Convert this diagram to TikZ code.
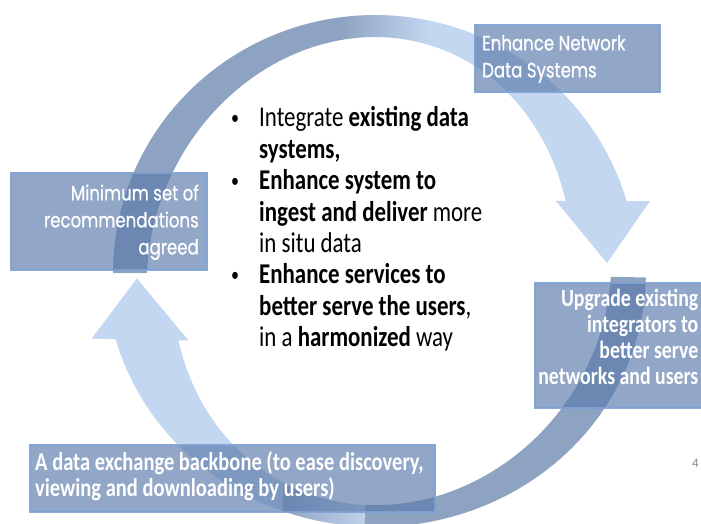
\documentclass[tikz,border=0pt]{standalone}
\usepackage{fontspec}
\setmainfont{Carlito}
\newfontfamily\gothic[FakeBold=0.6]{Poppins}
\definecolor{arrdark}{HTML}{8EA3C1}
\definecolor{arrlight}{HTML}{C3D7F0}
\definecolor{boxfill}{HTML}{5979AA}
\definecolor{boxedge}{HTML}{7EA1D3}
\newcommand\arrowshape{plot[domain=180:343.8,samples=90,variable=\t] ({375+262*cos(\t)},{273+258*sin(\t)}) -- (650,201) -- (607,263) -- (556,201) -- plot[domain=342.2:180,samples=90,variable=\t] ({375+(228-28*(\t-180)/163.6)*cos(\t)},{273+236*sin(\t)}) -- cycle}
\newcommand\tallbox[1]{\scalebox{1}[1.25]{#1}}
\newcommand\bul{\makebox[29pt][l]{\hspace{1pt}\raisebox{1.6pt}{\fontsize{16}{16}\selectfont\textbullet}}}
\tikzset{
  box/.style={rectangle, fill=boxfill, fill opacity=0.65, draw=boxedge, draw opacity=0.9, line width=1.1pt, inner sep=0pt},
  boxtxt/.style={inner sep=0pt, text=white},
  gothicfont/.style={font=\gothic\fontsize{16.6}{21.6}\selectfont}
}
\begin{document}
\begin{tikzpicture}[x=1pt,y=-1pt]
\useasboundingbox (0,0) rectangle (701,524);
\fill[white] (0,0) rectangle (701,524);
% top arrow
\begin{scope}
\clip \arrowshape;
\fill[arrdark] (0,0) rectangle (340,524);
\shade[left color=arrdark,right color=arrlight] (340,0) rectangle (430,524);
\fill[arrlight] (430,0) rectangle (701,524);
\end{scope}
% bottom arrow
\begin{scope}[shift={(375.5,272)}, rotate=179, xscale=1.03, yscale=0.985, shift={(-375.5,-273.75)}]
\clip \arrowshape;
\fill[arrdark] (0,-100) rectangle (382,700);
\shade[left color=arrdark,right color=arrlight] (382,-100) rectangle (462,700);
\fill[arrlight] (462,-100) rectangle (800,700);
\end{scope}
% boxes
\node[box, minimum width=196, minimum height=97] (rec) at (109,221.5) {};
\node[box, minimum width=185, minimum height=67] (enh) at (567.5,58.5) {};
\node[box, minimum width=170, minimum height=125] (upg) at (620,345.5) {};
\node[box, minimum width=405, minimum height=67] (bb) at (232.5,478.5) {};
% box texts
\node[boxtxt, gothicfont, anchor=east] (rect) at (199,222) {\tallbox{\begin{tabular}{@{}r@{}}Minimum set of\\recommendations\\agreed\end{tabular}}};
\node[boxtxt, gothicfont, anchor=west] (enht) at (482,58.5) {\tallbox{\begin{tabular}{@{}l@{}}Enhance Network\\Data Systems\end{tabular}}};
\node[boxtxt, font=\bfseries\fontsize{19.8}{20.8}\selectfont, anchor=east] (upgt) at (698.5,340) {\tallbox{\begin{tabular}{@{}r@{}}Upgrade existing\\integrators to\\better serve\\networks and users\end{tabular}}};
\node[boxtxt, font=\bfseries\fontsize{20.5}{20}\selectfont, anchor=west] (bbt) at (35,477.5) {\tallbox{\begin{tabular}{@{}l@{}}A data exchange backbone (to ease discovery,\\viewing and downloading by users)\end{tabular}}};
% central text
\node[anchor=base west, inner sep=0pt, font=\fontsize{22.9}{25.1}\selectfont] (bultxt) at (230,127) {\tallbox{\parbox[t]{270pt}{%
\bul Integrate \textbf{existing data}\\
\hspace*{29pt}\textbf{systems,}\\
\bul\textbf{Enhance system to}\\
\hspace*{29pt}\textbf{ingest and deliver} more\\
\hspace*{29pt}in situ data\\
\bul\textbf{Enhance services to}\\
\hspace*{29pt}\textbf{better serve the users},\\
\hspace*{29pt}in a \textbf{harmonized} way}}};
\node[anchor=west, inner sep=0pt, text=black!45, font=\fontsize{13}{15}\selectfont] (pg) at (692,463) {4};
\end{tikzpicture}
\end{document}
